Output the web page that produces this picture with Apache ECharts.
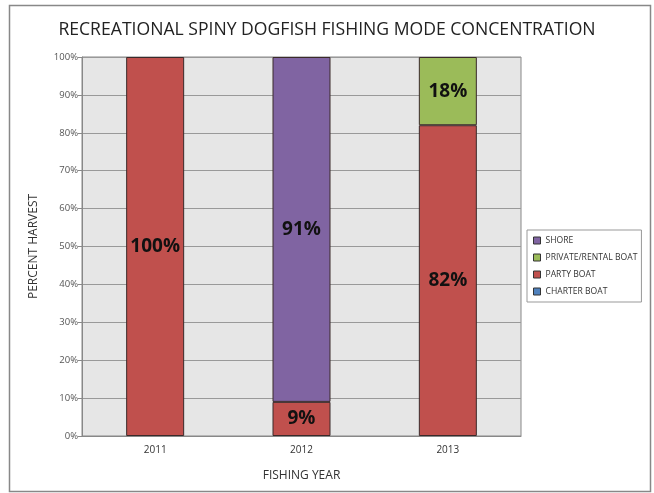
<!DOCTYPE html>
<html>
<head>
<meta charset="utf-8">
<script src="https://cdn.jsdelivr.net/npm/echarts@6/dist/echarts.min.js"></script>
<style>
  html, body { margin: 0; padding: 0; background: #fff; }
  #chart { width: 654px; height: 493px; }
</style>
</head>
<body>
<div id="chart"></div>
<script>
// chart data
var years = ['2011', '2012', '2013']
var charterBoat = [0, 0, 0]
var partyBoat = [100, 9, 82]
var privateBoat = [0, 0, 18]
var shore = [0, 91, 0]

var chart = echarts.init(document.getElementById('chart'))

function makeSeries(name, data, color) {
  return {
    name: name,
    type: 'bar',
    stack: 'total',
    // zero segments are not drawn
    data: data.map(function (v) { return v > 0 ? v : null }),
    barWidth: 58,
    itemStyle: {
      color: color,
      borderColor: '#3a2a2a',
      borderWidth: 1
    },
    label: {
      show: true,
      position: 'inside',
      fontFamily: 'Open Sans',
      fontSize: 19,
      fontWeight: 'bold',
      color: '#111',
      formatter: '{c}%'
    }
  }
}

chart.setOption({
  animation: false,
  textStyle: { fontFamily: 'Open Sans' },
  graphic: [{
    type: 'rect',
    shape: { x: 9.5, y: 5.5, width: 641, height: 486 },
    style: { fill: 'none', stroke: '#888', lineWidth: 1.5 },
    z: -1
  }],
  title: {
    text: 'RECREATIONAL SPINY DOGFISH FISHING MODE CONCENTRATION',
    left: 'center',
    top: 16,
    textStyle: {
      fontFamily: 'Open Sans',
      fontSize: 17.6,
      fontWeight: 'normal',
      color: '#222'
    }
  },
  legend: {
    orient: 'vertical',
    left: 527,
    top: 230,
    data: ['SHORE', 'PRIVATE/RENTAL BOAT', 'PARTY BOAT', 'CHARTER BOAT'],
    itemWidth: 7,
    itemHeight: 7,
    itemGap: 8,
    padding: [6, 4, 6, 6],
    borderColor: '#999',
    borderWidth: 1,
    icon: 'rect',
    itemStyle: { borderColor: '#333', borderWidth: 1 },
    textStyle: { fontFamily: 'Open Sans', fontSize: 8.6, color: '#333' }
  },
  grid: {
    left: 82,
    right: 133,
    top: 57,
    bottom: 57,
    show: true,
    backgroundColor: '#e6e6e6',
    borderColor: '#888',
    borderWidth: 1
  },
  xAxis: {
    type: 'category',
    data: years,
    name: 'FISHING YEAR',
    nameLocation: 'middle',
    nameGap: 34,
    nameTextStyle: { fontFamily: 'Open Sans', fontSize: 12, color: '#333' },
    axisLine: { lineStyle: { color: '#888' } },
    axisTick: { show: false },
    axisLabel: { fontSize: 10, color: '#333', margin: 9 }
  },
  yAxis: {
    type: 'value',
    min: 0,
    max: 100,
    interval: 10,
    name: 'PERCENT HARVEST',
    nameLocation: 'middle',
    nameGap: 42,
    nameTextStyle: { fontFamily: 'Open Sans', fontSize: 12, color: '#333' },
    axisLine: { show: true, lineStyle: { color: '#888' } },
    axisTick: { show: true, length: 4, lineStyle: { color: '#888' } },
    axisLabel: { fontSize: 9.5, color: '#555', formatter: '{value}%', margin: 4 },
    splitLine: { lineStyle: { color: '#999' } }
  },
  series: [
    makeSeries('CHARTER BOAT', charterBoat, '#4f81bd'),
    makeSeries('PARTY BOAT', partyBoat, '#c0504d'),
    makeSeries('PRIVATE/RENTAL BOAT', privateBoat, '#9bbb59'),
    makeSeries('SHORE', shore, '#8064a2')
  ]
})
</script>
</body>
</html>
